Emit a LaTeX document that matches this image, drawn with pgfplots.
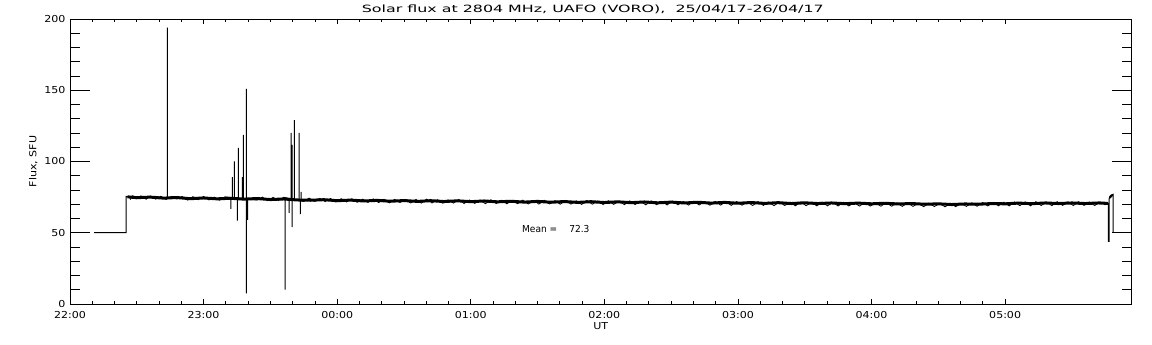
\documentclass[border=0pt]{standalone}
\usepackage{fontspec}
\setmainfont{DejaVu Sans}[FakeStretch=1.15]
\usepackage{graphicx}
\usepackage{pgfplots}
\pgfplotsset{compat=1.18}
\begin{document}
\begin{tikzpicture}
\useasboundingbox (-70pt,-41pt) rectangle (1082pt,304pt);
\begin{axis}[
  scale only axis,
  width=1061.7pt, height=285pt,
  xmin=0, xmax=7.947, ymin=0, ymax=200,
  xtick={0,1,2,3,4,5,6,7},
  xticklabels={22:00,23:00,00:00,01:00,02:00,03:00,04:00,05:00},
  ytick={0,50,100,150,200},
  minor x tick num=5,
  minor y tick num=4,
  tick align=inside,
  xtick style={/pgfplots/major tick length=5pt,/pgfplots/minor tick length=3pt,line width=0.8pt,black},
  ytick style={/pgfplots/major tick length=20pt,/pgfplots/minor tick length=10pt,line width=0.8pt,black},
  axis line style={line width=0.9pt,black},
  /pgf/number format/assume math mode=true,
  tick label style={font=\fontsize{9.6}{11}\selectfont},
  xticklabel style={yshift=-4pt},
  yticklabel style={xshift=-1pt},
  label style={font=\fontsize{9.6}{11}\selectfont},
  title style={font=\fontsize{10}{11}\selectfont, yshift=-4pt, xshift=-8pt},
  title={\scalebox{1.38}[1]{Solar flux at 2804 MHz, UAFO (VORO),~~25/04/17-26/04/17}},
  xlabel={UT},
  ylabel={Flux, SFU},
  xlabel style={yshift=3pt},
  ylabel style={yshift=0pt},
  unbounded coords=jump,
]
% thick noisy baseline band
\addplot[black, line width=3pt, line join=round] coordinates {
(0.43,75.2) (0.5,74.6) (0.6,75.0) (0.7,74.3) (0.8,74.7) (0.9,73.9) (1.0,74.4)
(1.1,73.8) (1.2,74.2) (1.3,73.6) (1.4,74.0) (1.5,73.3) (1.6,73.7) (1.7,73.0)
(1.8,72.8) (1.9,73.2) (2.0,72.5) (2.1,72.9) (2.2,72.3) (2.3,72.7) (2.4,72.1)
(2.5,72.6) (2.6,72.0) (2.7,72.5) (2.8,71.9) (2.9,72.4) (3.0,71.8) (3.1,72.3)
(3.2,71.7) (3.3,72.1) (3.4,71.5) (3.5,72.0) (3.6,71.4) (3.7,71.9) (3.8,71.3)
(3.9,71.8) (4.0,71.2) (4.1,71.7) (4.2,71.1) (4.3,71.6) (4.4,71.0) (4.5,71.5)
(4.6,70.9) (4.7,71.4) (4.8,70.8) (4.9,71.3) (5.0,70.7) (5.1,71.2) (5.2,70.6)
(5.3,71.1) (5.4,70.5) (5.5,71.0) (5.6,70.5) (5.7,70.9) (5.8,70.4) (5.9,70.8)
(6.0,70.3) (6.1,70.7) (6.2,70.2) (6.3,70.5) (6.4,70.0) (6.5,70.3) (6.6,69.8)
(6.7,70.2) (6.8,70.0) (6.9,70.5) (7.0,70.3) (7.1,70.8) (7.2,70.4) (7.3,70.9)
(7.4,70.5) (7.5,70.9) (7.6,70.5) (7.7,70.9) (7.77,70.6)
};
% thin ragged noise on the band
\addplot[black, line width=0.8pt] coordinates {
(0.45,73.2) (0.47,76.0) (0.5,73.8) (0.53,75.9) (0.57,73.5) (0.6,75.8) (0.64,73.6)
(0.68,75.6) (0.72,73.4) (0.76,75.5) (0.8,73.7) (0.84,75.4) (0.88,72.9) (0.92,75.3)
(0.96,73.2) (1.0,75.5) (1.04,73.0) (1.08,75.0) (1.12,72.8) (1.16,75.2) (1.4,72.9)
(1.44,75.0) (1.48,72.5) (1.52,74.8) (1.56,72.7) (1.6,74.9) (1.75,72.0) (1.79,74.3)
(1.83,72.0) (1.87,74.1) (1.91,71.9) (1.95,74.0) (1.99,71.6) (2.03,73.9) (2.07,71.6)
(2.11,73.8) (2.15,71.4) (2.19,73.6) (2.23,71.3) (2.27,73.8) (2.31,71.2) (2.35,73.5)
(2.39,71.0) (2.43,73.4) (2.47,71.2) (2.51,73.3) (2.55,70.9) (2.59,73.4) (2.63,70.8)
(2.67,73.6) (2.71,70.9) (2.75,73.2) (2.79,70.7) (2.83,73.1) (2.87,70.8) (2.91,73.3)
(2.95,70.5) (2.99,73.0) (3.03,70.6) (3.07,72.9) (3.11,70.4) (3.15,73.1) (3.19,70.5)
(3.23,72.8) (3.27,70.3) (3.31,72.7) (3.35,70.4) (3.39,72.9) (3.43,70.2) (3.47,72.6)
(3.51,70.1) (3.55,72.8) (3.59,70.2) (3.63,72.5) (3.67,70.0) (3.71,72.7) (3.75,70.1)
(3.79,72.4) (3.83,69.9) (3.87,72.6) (3.91,70.0) (3.95,72.3) (3.99,69.8) (4.03,72.5)
(4.07,69.9) (4.11,72.2) (4.15,69.7) (4.19,72.4) (4.23,69.8) (4.27,72.1) (4.31,69.6)
(4.35,72.3) (4.39,69.7) (4.43,72.0) (4.47,69.5) (4.51,72.2) (4.55,69.6) (4.59,71.9)
(4.63,69.4) (4.67,72.1) (4.71,69.5) (4.75,71.8) (4.79,69.3) (4.83,72.0) (4.87,69.4)
(4.91,71.7) (4.95,69.2) (4.99,71.9) (5.03,69.3) (5.07,71.6) (5.11,69.1) (5.15,71.8)
(5.19,69.2) (5.23,71.5) (5.27,69.0) (5.31,71.7) (5.35,69.1) (5.39,71.4) (5.43,68.9)
(5.47,71.6) (5.51,69.0) (5.55,71.3) (5.59,68.9) (5.63,71.5) (5.67,68.9) (5.71,71.2)
(5.75,68.8) (5.79,71.4) (5.83,68.8) (5.87,71.1) (5.91,68.7) (5.95,71.3) (5.99,68.7)
(6.03,71.0) (6.07,68.6) (6.11,71.2) (6.15,68.6) (6.19,70.9) (6.23,68.5) (6.27,71.0)
(6.31,68.5) (6.35,70.6) (6.39,68.3) (6.43,70.8) (6.47,68.4) (6.51,70.5) (6.55,68.2)
(6.59,70.6) (6.63,68.3) (6.67,70.7) (6.71,68.5) (6.75,71.0) (6.79,68.6) (6.83,71.2)
(6.87,68.8) (6.91,71.4) (6.95,68.9) (6.99,71.5) (7.03,68.8) (7.07,71.6) (7.11,69.0)
(7.15,71.7) (7.19,68.9) (7.23,71.8) (7.27,69.1) (7.31,71.6) (7.35,69.0) (7.39,71.8)
(7.43,69.2) (7.47,71.7) (7.51,69.1) (7.55,71.8) (7.59,69.2) (7.63,71.6) (7.67,69.1)
(7.71,71.7) (7.75,69.5)
};
% thin line: flat start, step, spikes, end features
\addplot[black, line width=1pt] coordinates {
(0.18,50) (0.42,50) (0.42,75.5) (0.45,74.8) (0.45,nan)
(0.728,74) (0.728,194) (0.728,nan)
(1.205,66.7) (1.205,74) (1.205,nan)
(1.215,74) (1.215,89) (1.215,nan)
(1.230,74) (1.230,100) (1.230,nan)
(1.252,58.5) (1.252,74) (1.252,nan)
(1.260,74) (1.260,109.5) (1.260,nan)
(1.290,74) (1.290,89) (1.290,nan)
(1.297,74) (1.297,118.6) (1.297,nan)
(1.320,7.5) (1.320,151) (1.320,nan)
(1.330,59) (1.330,74) (1.330,nan)
(1.611,10) (1.611,74) (1.611,nan)
(1.641,64) (1.641,74) (1.641,nan)
(1.656,73) (1.656,120) (1.656,nan)
(1.662,54) (1.662,111.6) (1.662,nan)
(1.679,73) (1.679,129) (1.679,nan)
(1.716,73) (1.716,120) (1.716,nan)
(1.724,63) (1.724,73) (1.724,nan)
(1.731,73) (1.731,78.6) (1.731,nan)
(7.772,71) (7.772,44) (7.779,44) (7.779,74) (7.79,76) (7.809,77) (7.809,50)
};
\addplot[black, line width=2.2pt] coordinates {(7.782,74.5) (7.795,76) (7.806,76.5)};
\node[anchor=west, font=\fontsize{9.6}{11}\selectfont, inner sep=0pt] at (axis cs:3.383,52.6) {\scalebox{0.82}[1]{Mean =}\hspace{12pt}\scalebox{0.82}[1]{72.3}};
\end{axis}
\end{tikzpicture}
\end{document}
